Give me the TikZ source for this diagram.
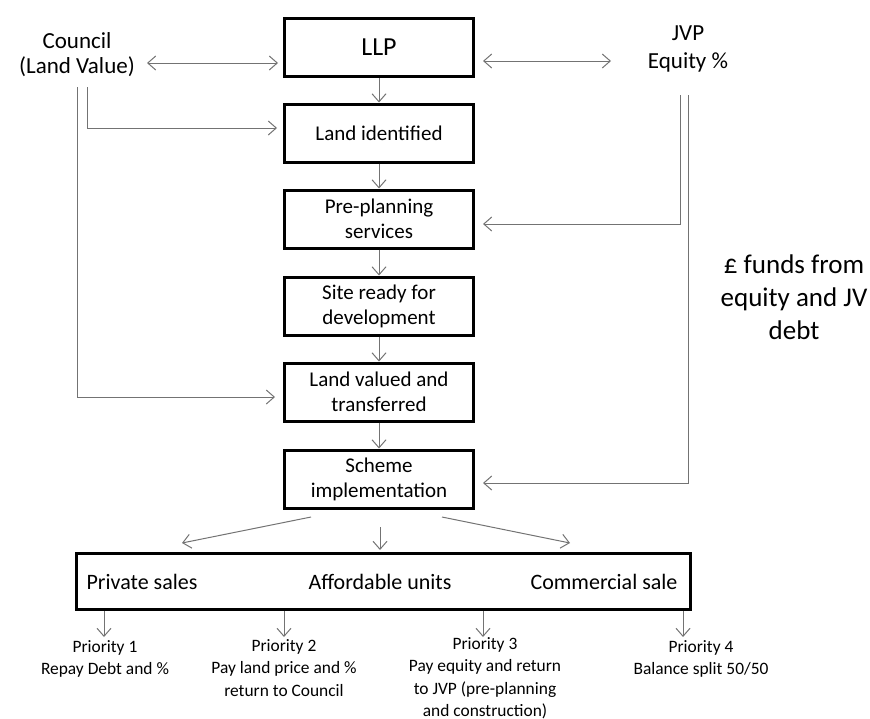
\documentclass[tikz,border=0pt]{standalone}
\usepackage{fontspec}
\setmainfont{Carlito}
\usetikzlibrary{arrows.meta}
\definecolor{linegray}{RGB}{115,115,115}
\begin{document}
\begin{tikzpicture}[
    x=0.5pt, y=-0.5pt,
    >={Straight Barb[length=4pt,width=7pt]},
    box/.style = {draw, line width=1.5pt, minimum width=94.5pt, minimum height=29pt,
      align=center, inner sep=1pt, font=\fontsize{10.5}{12.5}\selectfont},
    arr/.style = {draw=linegray, line width=0.5pt, ->},
    side/.style = {align=center, font=\fontsize{11.5}{12.5}\selectfont},
    unit/.style = {font=\fontsize{11}{13}\selectfont},
    prio/.style = {align=center, anchor=north, inner sep=0pt, font=\fontsize{8.7}{11.2}\selectfont},
  ]
  \useasboundingbox (0,0) rectangle (870,718);

  \node[box, font=\fontsize{13}{15}\selectfont] (llp) at (379,47.5) {LLP};
  \node[box] (ident) at (379,133) {Land identified};
  \node[box] (preplan) at (379,219) {Pre-planning\\services};
  \node[box] (site) at (379,306) {Site ready for\\development};
  \node[box] (valued) at (379,392) {Land valued and\\transferred};
  \node[box] (scheme) at (379,479) {Scheme\\implementation};

  \node[side] (council) at (77,55) {Council\\(Land Value)};
  \node[side, font=\fontsize{11.5}{14}\selectfont] (jvp) at (688,49) {JVP\\Equity \%};
  \node[align=center, font=\fontsize{13.5}{16.5}\selectfont] (funds) at (794,297)
    {£ funds from\\equity and JV\\debt};

  \node[draw, line width=1.5pt, minimum width=307pt, minimum height=28pt] (outbox) at (383.5,581.5) {};
  \node[unit] (private) at (142,582) {Private sales};
  \node[unit] (afford) at (380,582) {Affordable units};
  \node[unit] (commercial) at (604,582) {Commercial sale};

  \node[prio] (prio1) at (105,640) {Priority 1\\Repay Debt and \%};
  \node[prio] (prio2) at (284,639) {Priority 2\\Pay land price and \%\\return to Council};
  \node[prio] (prio3) at (485,637) {Priority 3\\Pay equity and return\\to JVP (pre-planning\\and construction)};
  \node[prio] (prio4) at (701,640) {Priority 4\\Balance split 50/50};

  \coordinate (c1) at (147,63);
  \coordinate (j1) at (611,61);
  \draw[arr, <->, shorten >=2.5pt] (c1) -- (c1 -| llp.west);
  \draw[arr, <->, shorten <=4pt] (llp.east |- j1) -- (j1);

  \draw[arr] (llp) -- (ident);
  \draw[arr] (ident) -- (preplan);
  \draw[arr] (preplan) -- (site);
  \draw[arr] (site) -- (valued);
  \draw[arr] (valued) -- (scheme);

  \coordinate (c2) at (87,87);
  \coordinate (c3) at (77,87);
  \draw[arr, shorten >=3pt] (c2) |- ([yshift=2.5pt]ident.west);
  \draw[arr, shorten >=4pt] (c3) |- ([yshift=-2.5pt]valued.west);

  \coordinate (j2) at (680,95);
  \coordinate (j3) at (688,95);
  \draw[arr, shorten >=4pt] (j2) |- ([yshift=-2.5pt]preplan.east);
  \draw[arr, shorten >=4pt] (j3) |- ([yshift=-2pt]scheme.east);

  \coordinate (s1) at (311,517);
  \coordinate (e1) at (182,543);
  \coordinate (s2) at (380,527);
  \coordinate (e2) at (380,550);
  \coordinate (s3) at (442,517);
  \coordinate (e3) at (570,543);
  \draw[arr] (s1) -- (e1);
  \draw[arr] (s2) -- (e2);
  \draw[arr] (s3) -- (e3);

  \coordinate (q1) at (104,637);
  \coordinate (q2) at (284,637);
  \coordinate (q3) at (483,637);
  \coordinate (q4) at (683,637);
  \draw[arr] (q1 |- outbox.south) -- (q1);
  \draw[arr] (q2 |- outbox.south) -- (q2);
  \draw[arr] (q3 |- outbox.south) -- (q3);
  \draw[arr] (q4 |- outbox.south) -- (q4);
\end{tikzpicture}
\end{document}
